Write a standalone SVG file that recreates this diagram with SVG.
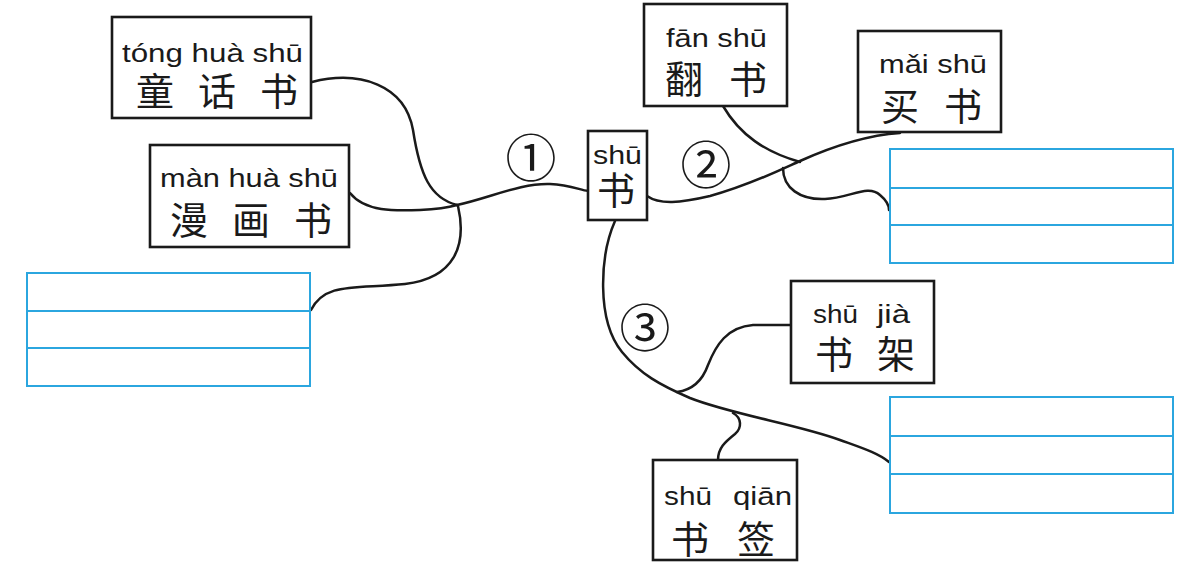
<svg xmlns="http://www.w3.org/2000/svg" width="1195" height="565" viewBox="0 0 1195 565">
<style>
.box{fill:#fff;stroke:#1a1a1a;stroke-width:2.6}
.blue{fill:#fff;stroke:#2ba6df;stroke-width:2}
.bl{stroke:#2ba6df;stroke-width:2}
.py{font-family:"Liberation Sans",Arial,sans-serif;font-size:26px;fill:#1a1a1a}
.hz{font-family:"Noto Sans CJK SC",sans-serif;font-size:38px;fill:#1a1a1a}
.num{font-family:"Noto Sans CJK SC",serif;font-size:51px;fill:#1a1a1a;text-anchor:middle}
.con path{fill:none;stroke:#1a1a1a;stroke-width:2.5;stroke-linecap:round}
</style>
<rect width="1195" height="565" fill="#fff"/>
<g class="con" id="connectors">
<path d="M312,82 C360,70 405,85 413,130 C420,175 430,198 457,205"/>
<path d="M350,193 C365,212 395,211 420,210 C440,209 450,207 457,205"/>
<path d="M457,205 C490,198 520,183 550,184 C570,185 580,190 588,191"/>
<path d="M458,206 C467,245 455,278 405,284 C355,289 325,282 311,310"/>
<path d="M647,196 C660,205 680,203 710,196 C750,185 780,170 800,161 C840,143 870,135 900,133"/>
<path d="M723,106 C740,135 765,152 800,162"/>
<path d="M783,168 C783,188 800,200 825,199 C850,198 868,184 880,195 C886,200 889,205 889,210"/>
<path d="M615,221 C600,255 596,320 622,352 C640,374 660,385 690,398 C730,414 800,425 840,440 C862,448 878,453 889,462"/>
<path d="M791,325 L753,325 C727,327 716,345 708,365 C702,382 692,390 677,392"/>
<path d="M733,413 C742,418 742,428 735,434 C725,442 718,448 718,460"/>
</g>
<g id="n-tonghuashu">
<rect class="box" x="112" y="17" width="199" height="101"/>
<text class="py" x="122" y="62" textLength="181" lengthAdjust="spacingAndGlyphs">tóng huà shū</text>
<text class="hz" x="136" y="105" font-size="40" textLength="162">童话书</text>
</g>
<g id="n-manhuashu">
<rect class="box" x="150" y="145" width="199" height="102"/>
<text class="py" x="160" y="187" textLength="178" lengthAdjust="spacingAndGlyphs">màn huà shū</text>
<text class="hz" x="170" y="234" font-size="40" textLength="162">漫画书</text>
</g>
<g id="n-blank-left">
<rect class="blue" x="27" y="273" width="283" height="113"/>
<line class="bl" x1="27" y1="311" x2="310" y2="311"/>
<line class="bl" x1="27" y1="348" x2="310" y2="348"/>
</g>
<g id="n-shu">
<rect class="box" x="588" y="131" width="59" height="89"/>
<text class="py" x="593" y="164" textLength="49" lengthAdjust="spacingAndGlyphs">shū</text>
<text class="hz" x="616" y="204" text-anchor="middle">书</text>
</g>
<g id="n-fanshu">
<rect class="box" x="644" y="4" width="143" height="102"/>
<text class="py" x="666" y="47" textLength="101" lengthAdjust="spacingAndGlyphs">fān shū</text>
<text class="hz" x="665" y="93" textLength="102">翻书</text>
</g>
<g id="n-maishu">
<rect class="box" x="858" y="31" width="143" height="101"/>
<text class="py" x="879" y="73" textLength="108" lengthAdjust="spacingAndGlyphs">mǎi shū</text>
<text class="hz" x="881" y="120" textLength="101">买书</text>
</g>
<g id="n-blank-right-top">
<rect class="blue" x="890" y="149" width="283" height="114"/>
<line class="bl" x1="890" y1="188" x2="1173" y2="188"/>
<line class="bl" x1="890" y1="225" x2="1173" y2="225"/>
</g>
<g id="n-shujia">
<rect class="box" x="791" y="281" width="143" height="102"/>
<text class="py" y="323"><tspan x="813" textLength="45" lengthAdjust="spacingAndGlyphs">shū</tspan> <tspan x="877" textLength="33" lengthAdjust="spacingAndGlyphs">jià</tspan></text>
<text class="hz" x="815" y="368" textLength="100">书架</text>
</g>
<g id="n-blank-right-bottom">
<rect class="blue" x="890" y="397" width="283" height="116"/>
<line class="bl" x1="890" y1="436" x2="1173" y2="436"/>
<line class="bl" x1="890" y1="474" x2="1173" y2="474"/>
</g>
<g id="n-shuqian">
<rect class="box" x="653" y="460" width="144" height="100"/>
<text class="py" y="505"><tspan x="664" textLength="48" lengthAdjust="spacingAndGlyphs">shū</tspan> <tspan x="733" textLength="59" lengthAdjust="spacingAndGlyphs">qiān</tspan></text>
<text class="hz" x="671" y="553" textLength="104">书签</text>
</g>
<g id="labels">
<text class="num" x="531" y="177">①</text>
<text class="num" x="706" y="184">②</text>
<text class="num" x="645" y="347">③</text>
</g>
</svg>
